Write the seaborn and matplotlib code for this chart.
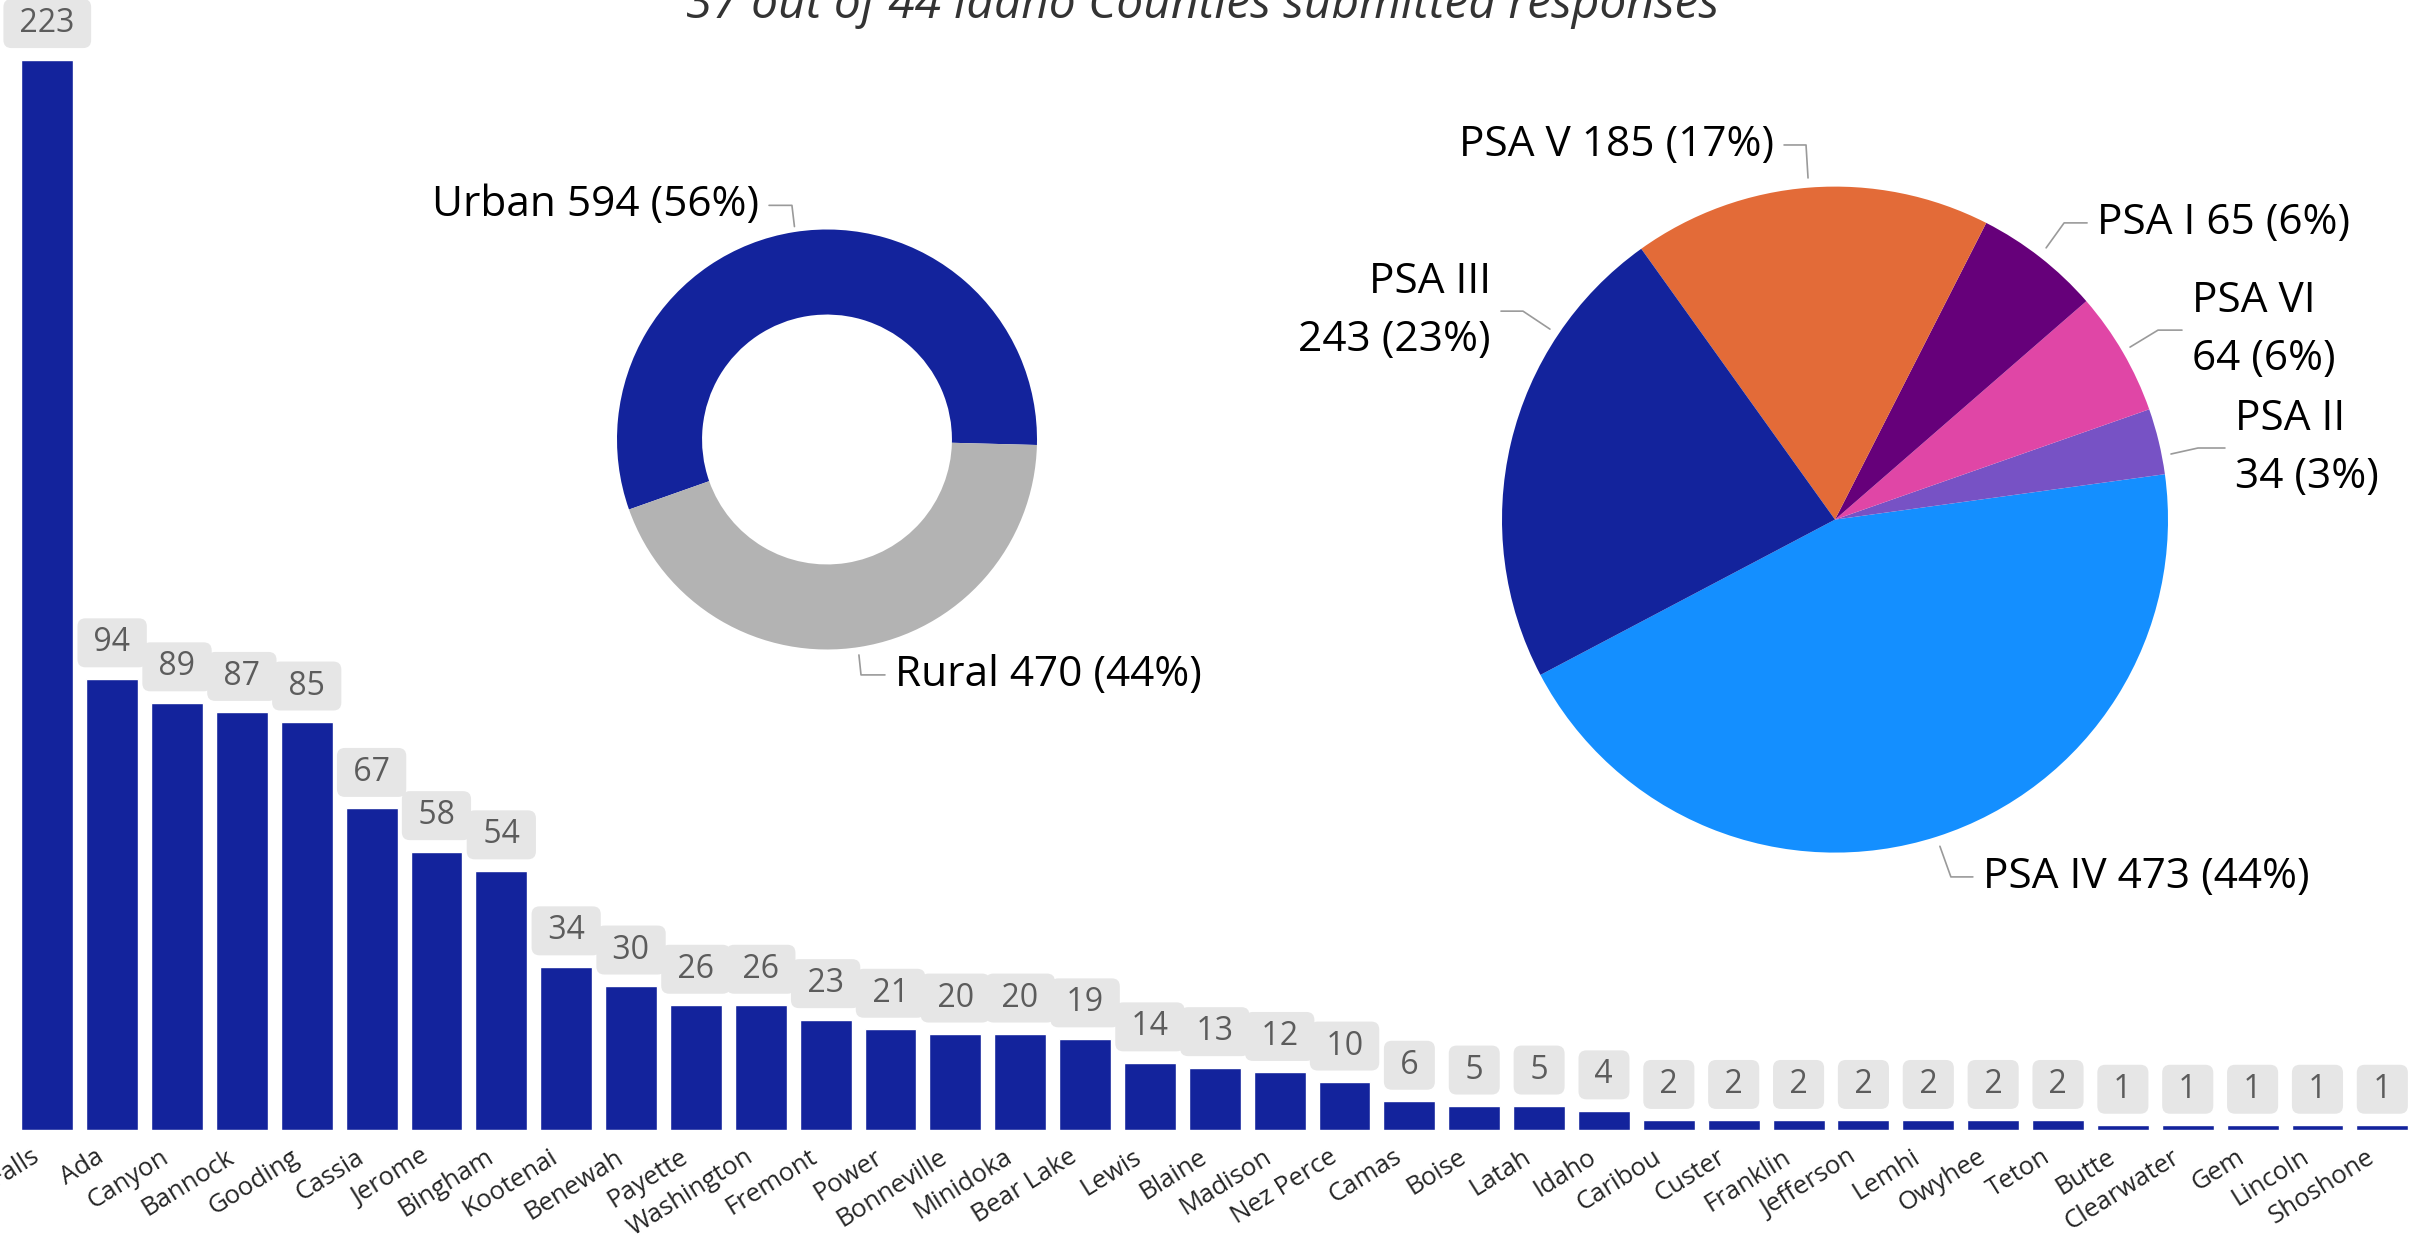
import matplotlib
matplotlib.use('Agg')
import matplotlib.pyplot as plt
import seaborn as sns
from matplotlib.transforms import ScaledTranslation

# responses per county
counties = ['Twin Falls', 'Ada', 'Canyon', 'Bannock', 'Gooding', 'Cassia', 'Jerome',
            'Bingham', 'Kootenai', 'Benewah', 'Payette', 'Washington', 'Fremont',
            'Power', 'Bonneville', 'Minidoka', 'Bear Lake', 'Lewis', 'Blaine',
            'Madison', 'Nez Perce', 'Camas', 'Boise', 'Latah', 'Idaho', 'Caribou',
            'Custer', 'Franklin', 'Jefferson', 'Lemhi', 'Owyhee', 'Teton', 'Butte',
            'Clearwater', 'Gem', 'Lincoln', 'Shoshone']
responses = [223, 94, 89, 87, 85, 67, 58, 54, 34, 30, 26, 26, 23, 21, 20, 20, 19,
             14, 13, 12, 10, 6, 5, 5, 4, 2, 2, 2, 2, 2, 2, 2, 1, 1, 1, 1, 1]

# urban / rural split
area_names = ['Urban', 'Rural']
area_counts = [594, 470]
area_colors = ['#13239c', '#b3b3b3']

# planning and service areas
psa_names = ['PSA IV', 'PSA II', 'PSA VI', 'PSA I', 'PSA V', 'PSA III']
psa_counts = [473, 34, 64, 65, 185, 243]
psa_colors = ['#148fff', '#7752c5', '#e046a6', '#66007a', '#e36b38', '#13239c']

title = '37 out of 44 Idaho Counties submitted responses'
bar_color = '#13239c'

# connector lines for the slice labels (in units of the pie radius)
area_label_layout = {
    'Urban': [(-0.155, 1.014), (-0.167, 1.115), (-0.276, 1.115)],
    'Rural': [(0.152, -1.026), (0.162, -1.121), (0.276, -1.121)],
}
psa_label_layout = {
    'PSA V': [(-0.081, 1.026), (-0.087, 1.125), (-0.153, 1.125)],
    'PSA I': [(0.634, 0.816), (0.688, 0.891), (0.757, 0.891)],
    'PSA VI': [(0.886, 0.518), (0.970, 0.569), (1.042, 0.569)],
    'PSA II': [(1.009, 0.197), (1.090, 0.215), (1.171, 0.215)],
    'PSA III': [(-0.856, 0.572), (-0.937, 0.626), (-1.003, 0.626)],
    'PSA IV': [(0.315, -0.981), (0.348, -1.073), (0.414, -1.073)],
}
two_line = ['PSA VI', 'PSA II', 'PSA III']

W, H = 2418, 1235

sns.set_style('white')
plt.rcParams['font.family'] = ['Open Sans', 'DejaVu Sans']

fig = plt.figure(figsize=(W / 100, H / 100), dpi=100)

# --- bar chart across the whole figure ---
ax = fig.add_axes([0, 105 / H, 1, 1130 / H])
sns.barplot(x=counties, y=responses, color=bar_color, saturation=1, width=0.8,
            errorbar=None, ax=ax)
ax.set_xlim(-0.729, 36.55)
ax.set_ylim(0, 235.4)
ax.set_xlabel('')
ax.set_ylabel('')
ax.set_yticks([])
sns.despine(ax=ax, left=True, bottom=True)

ax.bar_label(ax.containers[0], labels=[f' {v} ' for v in responses], padding=14,
             fontsize=23, color='#5c5c5c',
             bbox=dict(boxstyle='round,pad=0.25', fc='#e6e6e6', ec='none'))

ax.set_xticks(range(len(counties)))
ax.set_xticklabels(counties, rotation=32, ha='right', va='center',
                   rotation_mode='anchor', fontsize=18.5)
ax.tick_params(axis='x', length=0, pad=18)
shift = ScaledTranslation(-10 / 100, 0, fig.dpi_scale_trans)
for lab in ax.get_xticklabels():
    lab.set_transform(lab.get_transform() + shift)


def pie_axes(cx, cy, r, lim=1.4):
    half = r * lim
    a = fig.add_axes([(cx - half) / W, (H - cy - half) / H, 2 * half / W, 2 * half / H])
    return a


def label_slices(a, names, counts, layout, r_px):
    total = sum(counts)
    for name, v in zip(names, counts):
        pct = round(100 * v / total)
        sep = '\n' if name in two_line else ' '
        xs, ys = zip(*layout[name])
        a.plot(xs, ys, color='#9a9a9a', lw=1.2, clip_on=False)
        ha = 'right' if xs[2] < xs[1] else 'left'
        gap = 10 / r_px * (-1 if ha == 'right' else 1)
        a.text(xs[2] + gap, ys[2], f'{name}{sep}{v} ({pct}%)', ha=ha, va='center',
               multialignment=ha, fontsize=30.5, linespacing=1.5, color='black')


# --- donut: urban vs rural ---
ax_d = pie_axes(827, 439.5, 210)
ax_d.pie(area_counts, colors=area_colors, startangle=-1.5, counterclock=True,
         radius=1, wedgeprops=dict(width=0.405, linewidth=0))
ax_d.set_xlim(-1.4, 1.4)
ax_d.set_ylim(-1.4, 1.4)
ax_d.set_aspect('equal')
ax_d.axis('off')
label_slices(ax_d, area_names, area_counts, area_label_layout, 210)

# --- pie: planning and service areas ---
ax_p = pie_axes(1835, 519.6, 333)
ax_p.pie(psa_counts, colors=psa_colors, startangle=207.8, counterclock=True,
         radius=1, wedgeprops=dict(linewidth=0))
ax_p.set_xlim(-1.4, 1.4)
ax_p.set_ylim(-1.4, 1.4)
ax_p.set_aspect('equal')
ax_p.axis('off')
label_slices(ax_p, psa_names, psa_counts, psa_label_layout, 333)

fig.text(1203 / W, 1 - 18 / H, title, ha='center', va='baseline', style='italic',
         fontsize=34.5, color='#333333')

fig.savefig('out.png', dpi=100)
